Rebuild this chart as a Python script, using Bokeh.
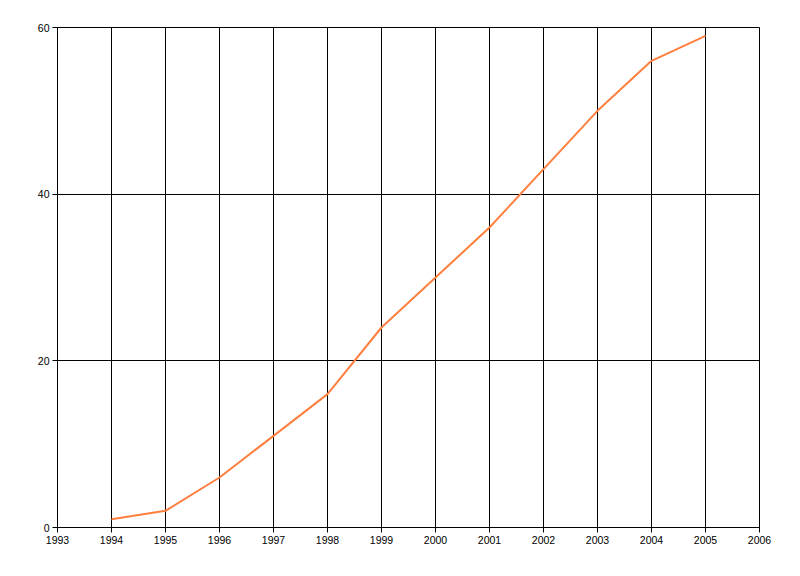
from bokeh.plotting import figure
from bokeh.models import FixedTicker, Range1d
from bokeh.embed import file_html
from bokeh.resources import INLINE

years = [1994, 1995, 1996, 1997, 1998, 1999, 2000, 2001, 2002, 2003, 2004, 2005]
values = [1, 2, 6, 11, 16, 24, 30, 36, 43, 50, 56, 59]
x_ticks = list(range(1993, 2007))
y_ticks = [0, 20, 40, 60]

p = figure(width=784, height=556, output_backend="svg", toolbar_location=None,
           x_range=Range1d(1993, 2006), y_range=Range1d(0, 60),
           frame_width=702, frame_height=500,
           min_border_left=57, min_border_top=27, min_border_right=25, min_border_bottom=25)

p.line(years, values, line_color="#FF7F3F", line_width=2)

p.xaxis.ticker = FixedTicker(ticks=x_ticks)
p.yaxis.ticker = FixedTicker(ticks=y_ticks)
for ax in (p.xaxis[0], p.yaxis[0]):
    ax.axis_line_color = "black"
    ax.major_tick_line_color = "black"
    ax.major_tick_out = 5
    ax.major_tick_in = 0
    ax.minor_tick_line_color = None
    ax.major_label_text_font = "Liberation Sans"
    ax.major_label_text_font_size = "10.5px"
    ax.major_label_text_color = "black"
    ax.major_label_standoff = 3

p.xgrid.grid_line_color = "black"
p.ygrid.grid_line_color = "black"
p.xgrid.grid_line_alpha = 1
p.ygrid.grid_line_alpha = 1
p.outline_line_color = "black"
p.outline_line_alpha = 1
p.background_fill_color = "white"
p.border_fill_color = "white"

open("out.html", "w").write(file_html(p, INLINE))
